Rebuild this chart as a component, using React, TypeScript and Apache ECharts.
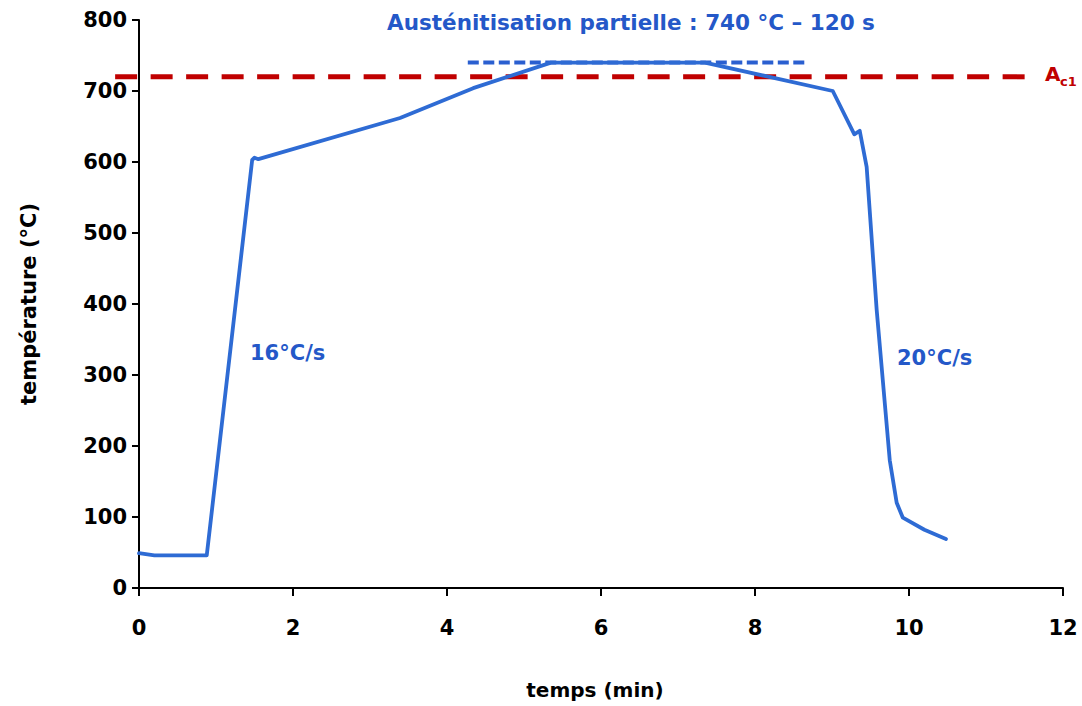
import React, { useEffect, useRef } from "react";
import * as echarts from "echarts";

// Temperature cycle (time in min, temperature in °C)
const timeMin = [0, 0.2, 0.88, 1.47, 1.5, 1.55, 3.39, 4.34, 5.35, 7.35, 9.01, 9.29, 9.36, 9.45, 9.58, 9.75, 9.84, 9.92, 10.2, 10.48];
const tempC = [49, 46, 46, 603, 606, 604, 662, 704, 740, 740, 700, 639, 644, 593, 392, 180, 120, 99, 82, 69];

// Reference lines
const ac1Time = [-0.31, 11.57];
const ac1Temp = [720, 720];
const austTime = [4.27, 8.69];
const austTemp = [740, 740];

const xTicks = { min: 0, max: 12, interval: 2 };
const yTicks = { min: 0, max: 800, interval: 100 };

const titleText = "Austénitisation partielle : 740 °C – 120 s";
const heatRate = "16°C/s";
const coolRate = "20°C/s";

const FONT = "DejaVu Sans";
const BLUE = "#2e6bd4";
const TXT_BLUE = "#2458c8";
const RED = "#c00000";

export default function App() {
  const ref = useRef<HTMLDivElement>(null);
  useEffect(() => {
    document.body.style.margin = "0";
    const chart = echarts.init(ref.current!, undefined, { renderer: "svg" });
    const zip = (a: number[], b: number[]) => a.map((v, i) => [v, b[i]]);
    const labels: any[] = [
      {
        type: "text",
        style: {
          text: titleText,
          x: 631,
          y: 22,
          align: "center",
          verticalAlign: "middle",
          fontFamily: FONT,
          fontWeight: "bold",
          fontSize: 21.5,
          fill: TXT_BLUE,
        },
      },
      {
        type: "text",
        style: { text: heatRate, x: 250, y: 353, verticalAlign: "middle", fontFamily: FONT, fontWeight: "bold", fontSize: 21, fill: TXT_BLUE },
      },
      {
        type: "text",
        style: { text: coolRate, x: 897, y: 358, verticalAlign: "middle", fontFamily: FONT, fontWeight: "bold", fontSize: 21, fill: TXT_BLUE },
      },
      {
        type: "text",
        style: { text: "A", x: 1045, y: 74, verticalAlign: "middle", fontFamily: FONT, fontWeight: "bold", fontSize: 20, fill: RED },
      },
      {
        type: "text",
        style: { text: "c1", x: 1060, y: 81, verticalAlign: "middle", fontFamily: FONT, fontWeight: "bold", fontSize: 13, fill: RED },
      },
    ];
    chart.setOption({
      animation: false,
      backgroundColor: "#ffffff",
      textStyle: { fontFamily: FONT },
      grid: { left: 139, right: 19, top: 20, bottom: 118, containLabel: false },
      xAxis: {
        type: "value",
        min: xTicks.min,
        max: xTicks.max,
        interval: xTicks.interval,
        name: "temps (min)",
        nameLocation: "middle",
        nameGap: 92,
        nameTextStyle: { fontFamily: FONT, fontWeight: "bold", fontSize: 20, color: "#000", padding: [0, 12, 0, 0] },
        axisLine: { show: true, lineStyle: { color: "#000", width: 2 } },
        axisTick: { show: true, inside: false, length: 8, lineStyle: { color: "#000", width: 2 } },
        axisLabel: { fontFamily: FONT, fontWeight: "bold", fontSize: 21, color: "#000", margin: 29 },
        splitLine: { show: false },
      },
      yAxis: {
        type: "value",
        min: yTicks.min,
        max: yTicks.max,
        interval: yTicks.interval,
        name: "température (°C)",
        nameLocation: "middle",
        nameGap: 100,
        nameTextStyle: { fontFamily: FONT, fontWeight: "bold", fontSize: 21, color: "#000" },
        axisLine: { show: true, lineStyle: { color: "#000", width: 2 } },
        axisTick: { show: true, inside: false, length: 7, lineStyle: { color: "#000", width: 2 } },
        axisLabel: { fontFamily: FONT, fontWeight: "bold", fontSize: 21, color: "#000", margin: 12 },
        splitLine: { show: false },
      },
      graphic: labels,
      series: [
        {
          type: "line",
          data: zip(austTime, austTemp),
          symbol: "none",
          silent: true,
          z: 2,
          lineStyle: { color: "#2a5fd0", width: 4, type: [11, 4.5] },
        },
        {
          type: "line",
          data: zip(timeMin, tempC),
          symbol: "none",
          z: 3,
          lineStyle: { color: BLUE, width: 3.8, join: "round", cap: "round" },
        },
      ],
    });
    // Ac1 line extends left of the y axis: place it through the axis scales
    const p0 = chart.convertToPixel({ gridIndex: 0 }, [ac1Time[0], ac1Temp[0]]) as number[];
    const p1 = chart.convertToPixel({ gridIndex: 0 }, [ac1Time[1], ac1Temp[1]]) as number[];
    chart.setOption({
      graphic: [
        ...labels,
        {
          type: "line",
          z: 1,
          silent: true,
          shape: { x1: p0[0], y1: p0[1], x2: p1[0], y2: p1[1] },
          style: { stroke: RED, lineWidth: 5, lineDash: [22, 13.5] },
        },
      ],
    });
    return () => chart.dispose();
  }, []);
  return <div ref={ref} style={{ width: 1082, height: 706 }} />;
}
